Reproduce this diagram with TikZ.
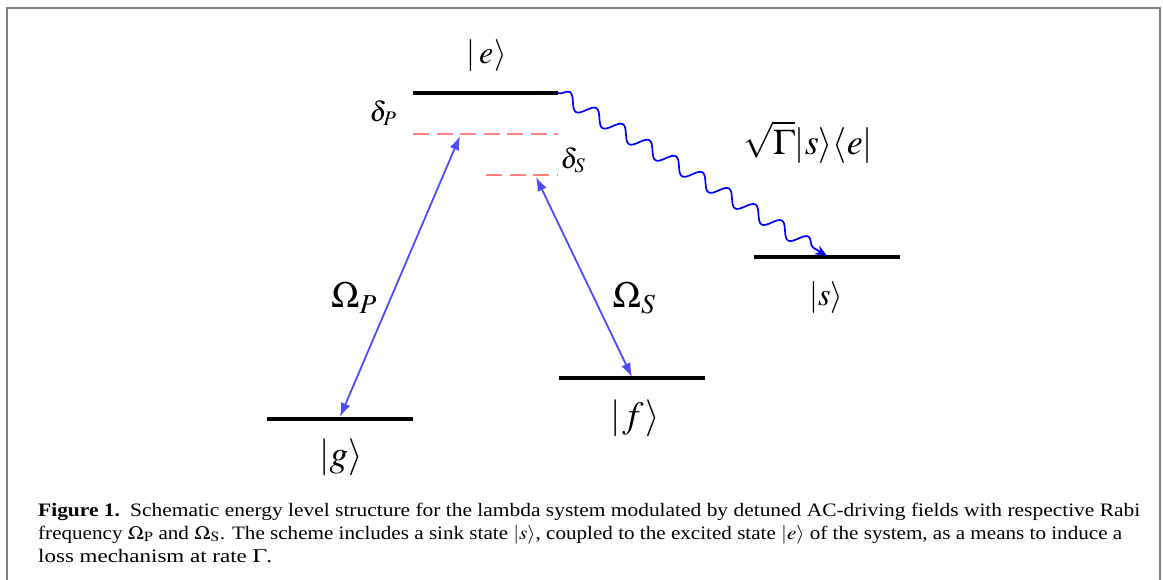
\documentclass[tikz,border=0pt]{standalone}
\usepackage{mathptmx}
\usepackage[no-math]{fontspec}
\setmainfont{Liberation Serif}
\usetikzlibrary{decorations.pathmorphing,arrows.meta}
\definecolor{framegray}{RGB}{128,128,128}
\definecolor{arrblue}{RGB}{77,77,255}
\definecolor{wavblue}{RGB}{0,0,255}
\definecolor{dashpink}{RGB}{255,128,128}
\begin{document}
\begin{tikzpicture}[x=1pt,y=-1pt,
  frameline/.style={draw=framegray,line width=2.6pt},
  level/.style={line width=4pt,black},
  detune/.style={draw=dashpink,line width=1.4pt,dash pattern=on 16pt off 7.5pt},
  coupling/.style={draw=arrblue,line width=1.8pt,{Latex[length=14pt,width=10pt]}-{Latex[length=14pt,width=10pt]}},
  decay/.style={draw=wavblue,line width=1.7pt,decorate,
     decoration={snake,amplitude=7pt,segment length=31pt,post length=9pt},
     -{Stealth[length=12pt,width=10pt]}},
  lbl/.style={inner sep=0pt,anchor=center},
  captxt/.style={inner sep=0pt,anchor=base west,font=\fontsize{19}{22}\selectfont}
]
\useasboundingbox (0,0) rectangle (1163,580);
\draw[frameline] (7,581) -- (7,8) -- (1160,8) -- (1160,581);

% levels
\coordinate (eL) at (413,93);  \coordinate (eR) at (558,93);
\coordinate (gL) at (267,419); \coordinate (gR) at (413,419);
\coordinate (fL) at (559,378); \coordinate (fR) at (705,378);
\coordinate (sL) at (754,257); \coordinate (sR) at (900,257);
\draw[level] (eL) -- (eR);
\draw[level] (gL) -- (gR);
\draw[level] (fL) -- (fR);
\draw[level] (sL) -- (sR);

% detunings
\coordinate (dpL) at (413,134); \coordinate (dpR) at (558,134);
\coordinate (dsL) at (486,175); \coordinate (dsR) at (558,175);
\draw[detune] (dpL) -- (dpR);
\draw[detune] (dsL) -- (dsR);

% couplings
\coordinate (pTop) at (460,136); \coordinate (pBot) at (340,417);
\coordinate (sTop) at (536,177); \coordinate (sBot) at (632,377);
\draw[coupling] (pBot) -- (pTop);
\draw[coupling] (sTop) -- (sBot);

% decay
\coordinate (sTip) at (827,256);
\draw[decay] (eR) -- (sTip);

% labels
\node[lbl,font=\fontsize{32}{34}\selectfont] (le) at (487,56) {$|\mkern2mu e\mkern1mu\rangle$};
\node[lbl,font=\fontsize{37}{39}\selectfont] (lg) at (341,457) {$|g\rangle$};
\node[lbl,font=\fontsize{37}{39}\selectfont] (lf) at (635,418) {$|\mkern1mu f\mkern1mu\rangle$};
\node[lbl,font=\fontsize{32}{34}\selectfont] (ls) at (826,298) {$|s\rangle$};
\node[lbl,font=\fontsize{36}{38}\selectfont] (lgam) at (808,142) {$\sqrt{\Gamma}|s\rangle\langle e|$};
\node[lbl,font=\fontsize{37}{39}\selectfont] (lop) at (354,298) {$\Omega_P$};
\node[lbl,font=\fontsize{37}{39}\selectfont] (los) at (634,298) {$\Omega_S$};
\node[lbl,font=\fontsize{28}{30}\selectfont] (ldp) at (383,113) {$\delta_P$};
\node[lbl,font=\fontsize{28}{30}\selectfont] (lds) at (573,160) {$\delta_S$};

% caption
\node[captxt] (c1) at (38,516) {\resizebox{1102pt}{\height}{\textbf{Figure 1.}\hspace{9pt}Schematic energy level structure for the lambda system modulated by detuned AC-driving fields with respective Rabi}};
\node[captxt] (c2) at (38,539) {\resizebox{1084pt}{\height}{frequency $\Omega_{\mathrm{P}}$ and $\Omega_{\mathrm{S}}$. The scheme includes a sink state $|s\rangle$, coupled to the excited state $|e\rangle$ of the system, as a means to induce a}};
\node[captxt] (c3) at (38,562) {\resizebox{234pt}{\height}{loss mechanism at rate $\Gamma$.}};
\end{tikzpicture}
\end{document}
